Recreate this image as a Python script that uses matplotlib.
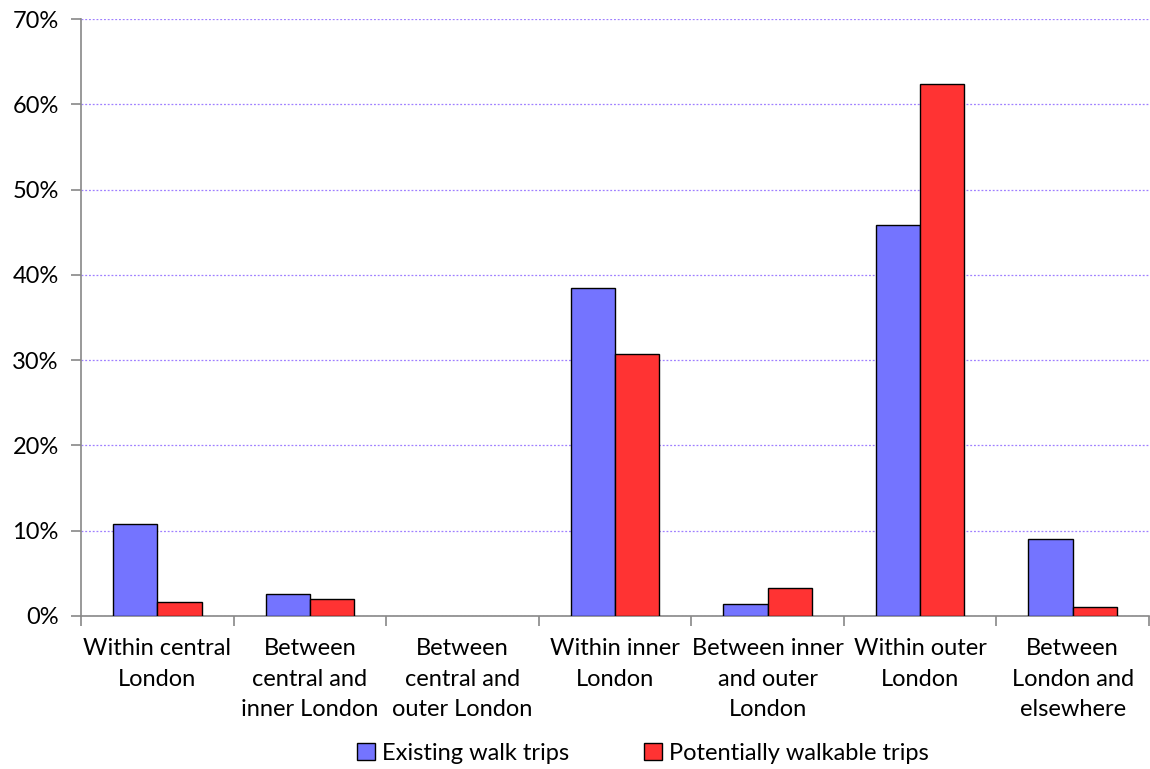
import matplotlib.pyplot as plt
import numpy as np
from matplotlib.ticker import FuncFormatter, FixedLocator

plt.rcParams.update({
    "font.family": ["Lato", "DejaVu Sans"],
    "font.size": 17,
})

categories = [
    "Within central\nLondon",
    "Between\ncentral and\ninner London",
    "Between\ncentral and\nouter London",
    "Within inner\nLondon",
    "Between inner\nand outer\nLondon",
    "Within outer\nLondon",
    "Between\nLondon and\nelsewhere",
]
existing = [10.8, 2.6, 0.0, 38.5, 1.4, 45.8, 9.0]
potential = [1.6, 2.0, 0.0, 30.7, 3.3, 62.4, 1.1]
series_names = ["Existing walk trips", "Potentially walkable trips"]

BLUE = "#7474ff"
RED = "#ff3333"
AXIS = "#888888"
GRID = "#9f7fff"

fig = plt.figure(figsize=(11.5, 7.69), dpi=100)
ax = fig.add_axes([81 / 1150, 1 - 616 / 769, (1149 - 81) / 1150, (616 - 19) / 769])

x = np.arange(len(categories))
w = 0.29
# zero-height bars get no outline, as in the original
lw_e = [1.0 if v > 0 else 0 for v in existing]
lw_p = [1.0 if v > 0 else 0 for v in potential]
ax.bar(x - w / 2, existing, w, color=BLUE, edgecolor="black", linewidth=lw_e,
       label=series_names[0], zorder=3)
ax.bar(x + w / 2, potential, w, color=RED, edgecolor="black", linewidth=lw_p,
       label=series_names[1], zorder=3)

ax.set_xlim(-0.5, len(categories) - 0.5)
ax.set_ylim(0, 70)
ax.set_yticks(np.arange(0, 71, 10))
ax.yaxis.set_major_formatter(FuncFormatter(lambda v, _: f"{v:.0f}%"))
ax.yaxis.grid(True, color=GRID, linestyle=(0, (1.5, 1.5)), linewidth=0.9, zorder=0)

ax.set_xticks(x)
ax.set_xticklabels(categories, linespacing=1.56)
ax.tick_params(axis="x", length=0, pad=16)
ax.xaxis.set_minor_locator(FixedLocator(np.arange(-0.5, len(categories), 1.0)))
ax.tick_params(axis="x", which="minor", length=7, color=AXIS, width=1.2)
ax.tick_params(axis="y", length=7, color=AXIS, width=1.2, pad=9)

for s in ["top", "right"]:
    ax.spines[s].set_visible(False)
for s in ["left", "bottom"]:
    ax.spines[s].set_color(AXIS)
    ax.spines[s].set_linewidth(1.2)

fig.legend(loc="lower center", bbox_to_anchor=(0.559, -0.021), ncol=2, frameon=False,
           handlelength=0.75, handleheight=0.75, handletextpad=0.3, columnspacing=3.2,
           fontsize=17)

fig.savefig("out.png", dpi=100)
